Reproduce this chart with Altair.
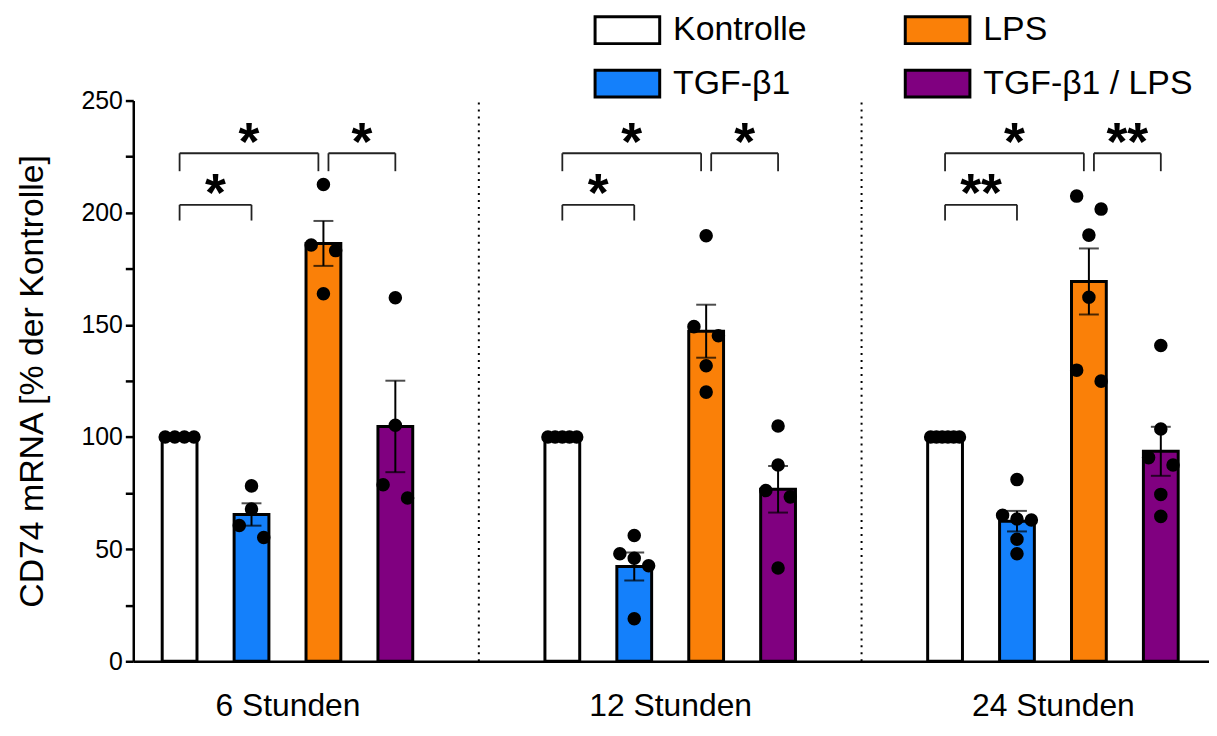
import altair as alt
import pandas as pd

# ---------------- data ----------------
GROUPS = ["6 Stunden", "12 Stunden", "24 Stunden"]
TREATMENTS = ["Kontrolle", "TGF-β1", "LPS", "TGF-β1 / LPS"]
FILL_COLORS = ["#FFFFFF", "#1480FB", "#FA8008", "#800080"]

KONTROLLE = [
    [100, 100, 100, 100],
    [100, 100, 100, 100, 100],
    [100, 100, 100, 100, 100, 100],
]
TGF = [
    [78.2, 67.9, 60.5, 55.2],
    [56.1, 47.9, 45.9, 42.6, 19.0],
    [81.0, 65.1, 63.4, 63.0, 54.4, 47.9],
]
LPS = [
    [212.6, 185.6, 183.1, 163.9],
    [189.7, 149.2, 145.1, 131.8, 120.0],
    [207.4, 201.6, 190.0, 162.3, 129.8, 124.9],
]
TGF_LPS = [
    [162.1, 105.2, 78.7, 72.8],
    [104.9, 87.5, 76.1, 73.3, 41.6],
    [140.8, 103.6, 90.8, 87.5, 74.4, 64.6],
]
SERIES = [KONTROLLE, TGF, LPS, TGF_LPS]

SIGNIF = [
    [("Kontrolle", "TGF-β1", "*"), ("Kontrolle", "LPS", "*"), ("LPS", "TGF-β1 / LPS", "*")],
    [("Kontrolle", "TGF-β1", "*"), ("Kontrolle", "LPS", "*"), ("LPS", "TGF-β1 / LPS", "*")],
    [("Kontrolle", "TGF-β1", "**"), ("Kontrolle", "LPS", "*"), ("LPS", "TGF-β1 / LPS", "**")],
]

Y_TITLE = "CD74 mRNA [% der Kontrolle]"

# ---------------- layout ----------------
FONT = "Liberation Sans"
X_FIRST = 0.575        # first bar centre, in bar-slot units
GROUP_STEP = 5.322     # distance between groups, in bar-slot units
X_MAX = 14.82
Y_MAX = 250
TIER_TOP = [203.5, 226.5]
TIER_LEG = [196.5, 218.5]
STAR_GAP = 10.5
SHARED_GAP = 0.07
CLUSTER = 6.2

def bar_x(g, t):
    return X_FIRST + g * GROUP_STEP + t

rows = []
for t, series in enumerate(SERIES):
    for g, vals in enumerate(series):
        svals = sorted(vals, reverse=True)
        clusters = [[svals[0]]]
        for v in svals[1:]:
            if clusters[-1][-1] - v < CLUSTER:
                clusters[-1].append(v)
            else:
                clusters.append([v])
        for cl in clusters:
            k = len(cl)
            sp = 0 if k == 1 else min(0.34, 0.4 / (k - 1))
            for i, v in enumerate(cl):
                rows.append({
                    "group": GROUPS[g], "treatment": TREATMENTS[t], "value": v,
                    "xbar": bar_x(g, t), "xpt": bar_x(g, t) + (i - (k - 1) / 2) * sp,
                })
df = pd.DataFrame(rows)

br_rows = []
for g, sigs in enumerate(SIGNIF):
    items = []
    for a, b, lab in sigs:
        ta, tb = TREATMENTS.index(a), TREATMENTS.index(b)
        tier = 0 if "TGF-β1" in (a, b) else 1
        items.append([ta, tb, lab, tier])
    for it in items:
        ta, tb, lab, tier = it
        x1, x2 = bar_x(g, ta), bar_x(g, tb)
        for other in items:
            if other is it or other[3] != tier:
                continue
            if tb in (other[0], other[1]):
                x2 -= SHARED_GAP
            if ta in (other[0], other[1]):
                x1 += SHARED_GAP
        br_rows.append({"x1": x1, "x2": x2, "top": TIER_TOP[tier], "leg": TIER_LEG[tier],
                        "xm": (x1 + x2) / 2, "ys": TIER_TOP[tier] + STAR_GAP, "label": lab})
br = pd.DataFrame(br_rows)

sep = pd.DataFrame({"x": [(bar_x(g, 3) + bar_x(g + 1, 0)) / 2 for g in range(len(GROUPS) - 1)],
                    "y0": 0, "y1": Y_MAX})

centers = [bar_x(g, 1.5) for g in range(len(GROUPS))]
label_expr = ""
for g in range(len(GROUPS) - 1):
    label_expr += f"datum.value < {sep['x'][g]} ? '{GROUPS[g]}' : "
label_expr += f"'{GROUPS[-1]}'"

xs = alt.Scale(domain=[0, X_MAX], nice=False, zero=False)
ys = alt.Scale(domain=[0, Y_MAX], nice=False)

x_axis = alt.Axis(values=centers, labelExpr=label_expr, ticks=False, grid=False, title=None,
                  domainWidth=2.5, domainColor="black", labelFont=FONT, labelFontSize=32,
                  labelColor="black", labelPadding=30, labelFlush=False, labelOverlap=False)
y_axis = alt.Axis(values=list(range(0, Y_MAX + 1, 25)),
                  labelExpr="datum.value % 50 == 0 ? datum.label : ''",
                  grid=False, tickSize=8, tickWidth=2.5, tickColor="black",
                  domainWidth=2.5, domainColor="black", labelFont=FONT, labelFontSize=25,
                  labelColor="black", labelPadding=3, title=Y_TITLE, titleFont=FONT,
                  titleFontSize=34, titleFontWeight="normal", titleColor="black",
                  titleX=-101, titleY=282, titleAngle=-90, titleAlign="center",
                  titleBaseline="middle")

base = alt.Chart(df)

bars = base.mark_bar(stroke="black", strokeWidth=3, size=35).encode(
    x=alt.X("xbar:Q", scale=xs, axis=x_axis),
    y=alt.Y("mean(value):Q", scale=ys, axis=y_axis),
    fill=alt.Fill("treatment:N",
                  scale=alt.Scale(domain=TREATMENTS, range=FILL_COLORS),
                  legend=alt.Legend(title=None, orient="none", legendX=463, legendY=-105,
                                    columns=2, columnPadding=92, rowPadding=-15,
                                    symbolType="M-1,-0.415H1V0.415H-1Z", symbolSize=4225,
                                    symbolStrokeColor="black", symbolStrokeWidth=3,
                                    symbolOpacity=1, labelFont=FONT, labelFontSize=34,
                                    labelColor="black", labelOffset=12, padding=0,
                                    labelLimit=400)),
)

err = base.transform_aggregate(
    m="mean(value)", s="stderr(value)", groupby=["group", "treatment", "xbar"]
).transform_calculate(lo="datum.m - datum.s", hi="datum.m + datum.s")

err_line = err.mark_rule(color="black", strokeWidth=2).encode(
    x=alt.X("xbar:Q", scale=xs), y=alt.Y("lo:Q", scale=ys), y2="hi:Q")
cap_hi = err.mark_tick(color="black", orient="horizontal", size=20, thickness=2).encode(
    x=alt.X("xbar:Q", scale=xs), y=alt.Y("hi:Q", scale=ys))
cap_lo = err.mark_tick(color="black", orient="horizontal", size=20, thickness=2).encode(
    x=alt.X("xbar:Q", scale=xs), y=alt.Y("lo:Q", scale=ys))

points = base.mark_circle(color="black", opacity=1, size=185).encode(
    x=alt.X("xpt:Q", scale=xs), y=alt.Y("value:Q", scale=ys))

bc = alt.Chart(br)
br_h = bc.mark_rule(color="#222222", strokeWidth=1.8).encode(
    x=alt.X("x1:Q", scale=xs), x2="x2:Q", y=alt.Y("top:Q", scale=ys))
br_l = bc.mark_rule(color="#222222", strokeWidth=1.8).encode(
    x=alt.X("x1:Q", scale=xs), y=alt.Y("top:Q", scale=ys), y2="leg:Q")
br_r = bc.mark_rule(color="#222222", strokeWidth=1.8).encode(
    x=alt.X("x2:Q", scale=xs), y=alt.Y("top:Q", scale=ys), y2="leg:Q")
stars = bc.mark_text(font=FONT, fontSize=54, fontWeight="bold", color="black",
                     baseline="alphabetic", dy=30).encode(
    x=alt.X("xm:Q", scale=xs), y=alt.Y("ys:Q", scale=ys), text="label:N")

seps = alt.Chart(sep).mark_rule(color="black", strokeWidth=2, strokeDash=[2, 5]).encode(
    x=alt.X("x:Q", scale=xs), y=alt.Y("y0:Q", scale=ys), y2="y1:Q")

chart = alt.layer(seps, bars, err_line, cap_hi, cap_lo, points, br_h, br_l, br_r, stars).properties(
    width=1082, height=564,
    autosize=alt.AutoSizeParams(type="none"),
    padding={"left": 126, "top": 91, "right": 0, "bottom": 60},
    background="white",
).configure_view(stroke=None)

chart.save("out.html", embed_options={"renderer": "svg", "actions": False})
